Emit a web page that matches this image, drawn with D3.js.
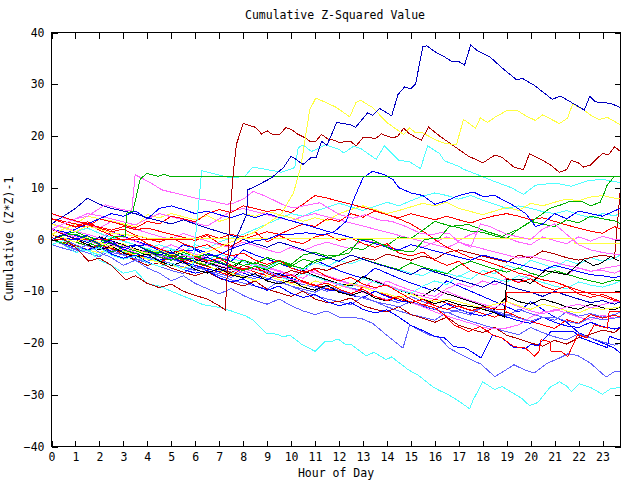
<!DOCTYPE html>
<html>
<head>
<meta charset="utf-8">
<script src="https://cdn.jsdelivr.net/npm/d3@7"></script>
<style>
body { margin: 0; background: #fff; }
text { font-family: "DejaVu Sans Mono", monospace; font-size: 11.5px; fill: #000; }
</style>
</head>
<body>
<svg id="chart" width="640" height="480"></svg>
<script>
const xTicks = d3.range(0, 24);
const yTicks = d3.range(-40, 41, 10);
// bundle series are sampled every half hour, last sample is 23:45
const halfHour = k => (k < 48 ? k / 2 : 23.75);

// traced series, [hour, value]
const navyTop = [[0,0],[0.5,1],[1,0.2],[1.5,-0.6],[2,0.4],[2.5,-0.8],[3,-1.6],[3.5,-1],[4,-2.2],[4.5,-3],[5,-2.4],[5.5,-3.6],[6,-4.2],[6.5,-3.4],[7,-4.5],[7.3,-5],[7.6,-1],[8.14,4.8],[8.2,9.6],[8.6,10.5],[9.18,11.9],[9.4,12.8],[9.68,13.9],[10,16.1],[10.2,15.5],[10.5,14.5],[10.85,15.9],[11.05,15.8],[11.27,19],[11.5,18.2],[11.9,22.6],[12.45,22.2],[12.7,21.7],[13.2,24.5],[13.4,24],[13.7,25.3],[14.2,23.9],[14.46,28],[14.74,29.5],[15,29.1],[15.2,30.1],[15.5,37.3],[15.67,37.4],[16,36.3],[16.4,35.3],[16.75,34.3],[16.96,34.5],[17.24,33.7],[17.5,37.6],[17.8,36.4],[18.3,35.3],[18.77,33.3],[19.4,30.9],[19.67,31.1],[20.15,29.8],[20.9,27.1],[21.24,27.7],[21.55,26.9],[22.24,25],[22.47,27.7],[22.7,26.6],[23.35,26.3],[23.73,25.5]];
const yellowTop = [[0,1],[0.5,0.3],[1,-0.5],[1.5,0.5],[2,-0.6],[2.5,-1.4],[3,-0.8],[3.5,-2],[4,-2.8],[4.5,-2],[5,-3],[5.5,-2.2],[6,-3.2],[6.5,-2.4],[7,-1.5],[7.5,-0.5],[8,0.4],[8.5,1.5],[9,3],[9.6,5],[10.1,9],[10.4,13.9],[10.78,25.1],[11.03,27.3],[11.5,26.4],[11.9,25.5],[12.45,23.7],[12.7,26.4],[12.9,26.9],[13.4,25.5],[14,22.6],[14.7,20.3],[14.95,21.6],[15.2,20.6],[15.5,20.6],[16,19.3],[16.4,18.6],[16.9,18.3],[17.2,23.2],[17.7,21.5],[17.9,23.5],[18.2,22.6],[18.5,23.6],[19,24.9],[19.45,24.9],[19.8,23.9],[20.2,23],[20.5,24.1],[21.2,22.4],[21.55,23.5],[21.75,26.2],[22.2,25.1],[22.55,23.9],[22.86,23.2],[23.2,23.6],[23.73,22.2]];
const darkRedTop = [[0,1],[0.5,0],[1,-1.5],[1.55,-4.2],[2,-3.6],[2.5,-5],[3.1,-7.8],[3.5,-7],[4,-8.5],[4.5,-9.3],[5,-8.6],[5.5,-10],[6,-10.8],[6.5,-11.5],[7,-12.8],[7.25,-13.6],[7.3,-10],[7.45,5],[7.6,13.5],[7.72,18.4],[8,22.4],[8.5,21.7],[8.77,20.4],[9,21],[9.25,20.2],[9.5,20.2],[9.78,21.6],[10,21.3],[10.3,20.3],[10.57,19.7],[10.78,19],[11.03,19],[11.27,20.3],[11.55,19.4],[11.8,19.2],[12.03,18.7],[12.3,19],[12.5,18.9],[12.72,18.1],[13,19.7],[13.3,19.8],[13.5,19.4],[13.77,20.4],[14.25,19.6],[14.46,20],[14.7,21.5],[14.95,20.4],[15.43,19.2],[15.74,21.7],[16.2,20],[16.6,18.7],[17,17.4],[17.4,16.1],[17.8,15.3],[18,14.8],[18.5,16.3],[18.8,15.9],[19.3,14],[19.7,13.5],[19.95,16.6],[20.3,15.8],[20.8,14.5],[21.2,13],[21.5,13.5],[21.7,15.3],[22,14.8],[22.2,14],[22.5,14.4],[22.8,15.8],[23,16.6],[23.25,16.4],[23.5,17.9],[23.73,17.1]];
const greenFlat = [[0,0],[0.5,0.8],[1,1],[1.5,0.2],[2,-1],[2.6,0.5],[3.07,0.6],[3.14,5.1],[3.4,5.5],[3.7,11.6],[3.97,12.8],[4.2,12.5],[4.45,12.2],[4.7,12.6],[4.95,12.2],[23.75,12.2]];
const magentaHigh = [[0,2],[0.5,3],[1,4],[1.5,4.5],[2.24,6.7],[2.93,5.8],[3.35,5.5],[3.49,12.5],[3.8,11.8],[4.3,10.5],[4.6,9.6],[5.3,8.8],[6,8],[6.7,7.4],[7.3,6.8],[7.6,7],[8.07,8],[8.42,9.3],[8.97,8.3],[9.67,6.7],[10.1,6.1],[11.2,7.1],[12.03,4.8],[12.6,4.1],[13.1,4.8],[13.65,3.8],[14.2,3.5],[14.8,2.5],[15.4,1.2],[15.9,0.9],[16.2,1.3],[16.6,1.2],[17,-0.5],[17.5,-1.5],[17.9,3],[18.3,2.5],[19,1],[19.5,0.5],[20,0],[20.5,2],[21,3],[21.5,1],[22,-1],[22.5,-2],[23,-2.5],[23.73,-3]];
const cyanTop = [[0,-1],[0.5,-0.2],[1,-1.4],[1.5,-2.2],[2,-1.6],[2.5,-3],[3,-3.8],[3.5,-3.2],[4,-4.5],[4.5,-5.2],[5,-4.6],[5.5,-5.8],[5.9,-5],[6.27,13.3],[7.5,11.9],[8.07,12.2],[8.4,14],[9,13.5],[9.6,13],[10.15,13.9],[10.3,17.7],[10.5,18.3],[10.85,17],[11.45,18.3],[12,17.4],[12.2,16.7],[12.6,18],[12.9,17.6],[13.55,15.5],[13.9,18.1],[14.5,15.3],[14.95,15],[15.4,13.7],[15.7,18.1],[16.2,16.6],[16.4,15.2],[16.96,14.2],[17.24,13.5],[17.8,12.5],[18.5,11.2],[19.2,10],[19.7,8.7],[20.2,10.5],[21,10.9],[21.7,10.3],[22.4,11.4],[23,11.6],[23.73,11]];
const greenRise = [[0,0],[0.5,-0.8],[1,0.2],[1.5,-0.6],[2,-1.4],[2.5,-0.6],[3,-2],[3.5,-2.8],[4,-2.2],[4.5,-3.4],[5,-4],[5.5,-3.2],[6,-4.4],[6.5,-5],[7,-4.2],[7.5,-5.4],[8,-6],[8.5,-5.2],[9,-5.8],[9.5,-4.6],[10,-5.2],[10.5,-3.8],[11,-4.4],[11.75,-3.3],[12.44,-2.6],[12.86,0],[13.35,0],[13.83,-1],[14.2,-2],[15.1,-2.4],[15.57,0],[16.2,0.3],[16.6,2.5],[17.4,2.9],[18.2,1.5],[18.8,0.6],[19.5,2],[20.2,4],[20.8,6],[21.27,6.7],[21.6,7.3],[22.1,7.4],[22.5,6.5],[22.9,7.2],[23.07,9],[23.2,10.6],[23.5,12.2],[23.73,12.2]];
const redFlatLow = [[0,4],[0.5,3.2],[1,2.4],[1.5,3],[2,1.8],[2.5,0.8],[3,-0.2],[3.5,0.6],[4,-0.8],[4.5,-1.8],[5,-2.6],[5.5,-2],[6,-3.4],[6.5,-4.2],[7,-3.6],[7.5,-5],[8,-5.8],[8.5,-5.2],[9,-6.6],[9.5,-7.4],[10,-6.8],[10.5,-8.2],[11,-9],[11.5,-8.4],[12,-9.6],[12.5,-10.4],[13,-9.6],[13.5,-11],[14,-11.8],[14.5,-11],[15,-12.2],[15.5,-11.6],[16,-12.8],[16.5,-13.5],[17,-12.8],[17.5,-13.8],[18,-13],[18.5,-13.4],[18.95,-13.6],[19,-10.2],[23.75,-10.2]];
const redFlatZero = [[0,0.5],[0.15,0],[5.85,0],[6.5,1],[7,0.2],[7.5,1],[8,0.5],[8.5,1.5],[9,-0.5],[9.5,0.8],[10,-0.3],[10.5,-0.8],[11,0.5],[11.5,1],[12,-0.2],[12.5,0.3],[13,-0.8],[13.5,-1.5],[14,-0.8],[14.5,-2.6],[15,-3.2],[15.5,-2.4],[16,-4],[16.5,-5],[17,-4.2],[17.5,-6],[18,-6.8],[18.5,-6],[19,-7.5],[19.5,-8.3],[20,-7.6],[20.5,-9],[21,-9.8],[21.5,-9],[22,-10.5],[22.5,-11.2],[23,-10.6],[23.75,-12]];
const yellowFlat = [[0,3],[0.5,2.2],[1,1.5],[1.5,2.6],[2,2],[2.5,1.2],[3,1],[3.8,0.5],[4.05,0.2],[21.8,0.2],[21.85,-0.8],[23.75,-0.8]];
const cyanBottom = [[0,0],[0.5,-1],[1,-2.5],[1.5,-2],[2,-4],[2.5,-5],[3,-6.5],[3.5,-6],[4,-8.5],[4.5,-9],[5,-10],[5.8,-11.5],[6.33,-12.6],[7.1,-13.2],[7.5,-13.8],[8.07,-14.7],[8.4,-15.5],[8.97,-18.1],[9.4,-18.3],[9.67,-18.8],[9.95,-18.5],[10.43,-20.2],[11,-21.6],[11.4,-19.8],[11.7,-19.7],[11.96,-19.2],[12.24,-20.2],[12.52,-20.3],[13.14,-22.5],[13.46,-21.8],[13.97,-23.2],[14.2,-22.7],[14.9,-25.2],[15.3,-26.2],[15.9,-28.4],[16.2,-29.2],[16.5,-29.8],[16.96,-31.1],[17.45,-32.7],[17.6,-31],[18,-27.5],[18.5,-29],[18.8,-28.4],[19.2,-29.5],[19.6,-30.6],[19.95,-32.1],[20.3,-31.5],[20.8,-28.6],[21.2,-27.5],[21.5,-28.3],[21.7,-29.4],[22.03,-27.9],[22.5,-28.6],[23,-29.9],[23.35,-28.8],[23.73,-28.6]];
const lightBlueLow = [[0,0],[0.5,-1],[1,-2],[1.5,-1],[2,-2.5],[2.5,-3.5],[3,-5],[3.5,-4],[4,-5.5],[4.5,-6.5],[5,-8],[5.5,-7],[6,-8.5],[6.5,-9.5],[7,-10.5],[7.5,-9.5],[8,-10.8],[8.5,-11.8],[9,-12.5],[9.5,-11.5],[10,-12.8],[10.5,-13.8],[11,-14.5],[11.5,-13.8],[12,-15],[12.9,-15.2],[13.4,-16.2],[13.97,-18.4],[14.67,-21],[14.95,-16.5],[15.4,-17.6],[15.8,-18.5],[16.2,-19],[16.6,-21],[17.24,-22.6],[17.93,-24.1],[18.5,-26.5],[18.9,-25.4],[19.3,-24.2],[19.7,-25.1],[20.15,-25.8],[20.7,-23.9],[21.2,-22.9],[21.55,-22.1],[21.95,-22.4],[22.5,-23.9],[23.15,-26.6],[23.5,-25.5],[23.73,-25.6]];
const blueMid = [[0,1],[0.5,0.2],[1,0],[1.5,0.8],[2,-1],[2.5,-0.2],[3,-2],[3.5,-1.2],[4,-1],[4.5,-2.2],[5,-3],[5.5,-2.2],[6,-2],[6.5,-3.2],[7,-3],[7.5,-1.8],[8,-1],[8.5,-0.2],[9,0],[9.5,1],[10,1],[10.64,1.3],[11.33,0.9],[11.8,1.5],[12.3,3.5],[12.58,7.4],[13,11.9],[13.4,13.2],[13.9,12.5],[14.25,11.6],[14.5,10],[15,9],[15.5,8.5],[16,6.8],[16.5,7.5],[17,8.5],[17.6,9.2],[18,8.3],[18.5,8.5],[19.2,6.8],[19.8,5],[20.2,2.5],[20.5,3],[21,5],[21.5,4],[22,5.5],[22.5,5],[23,4.5],[23.73,6]];
const blackJump = [[0,0],[0.5,-0.8],[1,0.2],[1.5,-1],[2,-2],[2.5,-1.2],[3,-2.6],[3.5,-3.4],[4,-2.8],[4.5,-4.2],[5,-5],[5.5,-4.3],[6,-5.8],[6.5,-6.5],[7,-5.6],[7.5,-6.8],[8,-7.4],[8.5,-6.6],[9,-8],[9.5,-8.6],[10,-7.8],[10.5,-9.2],[11,-9.8],[11.5,-8.8],[12,-10.2],[12.5,-10.8],[13,-10],[13.5,-11.3],[14,-11.9],[14.5,-11],[15,-12.3],[15.5,-11.5],[16,-12.4],[16.5,-11.8],[17,-12.6],[17.8,-13.2],[18.4,-14],[18.9,-15],[19,-7.8],[19.6,-7.8],[20,-8.5],[20.6,-6],[21.5,-6.8],[22.2,-3.9],[22.6,-5],[22.9,-4.7],[23.35,-3.3],[23.7,-4.2]];
const redZig = [[0,4],[0.5,3.2],[1,2.5],[1.5,3.4],[2,2.2],[2.5,1.5],[3,2],[3.5,0.8],[4,0.2],[4.5,-0.5],[5,0.4],[5.5,-0.8],[6,-1.6],[6.5,-1],[7,-2.4],[7.5,-3.2],[8,-2.6],[8.5,-4],[9,-4.8],[9.5,-4],[10,-5.5],[10.5,-6.3],[11,-5.8],[11.5,-7.2],[12,-8],[12.5,-7.3],[13,-8.6],[13.5,-9.3],[14,-8.8],[14.5,-10.2],[15,-11.5],[15.5,-12.6],[16,-13.2],[16.4,-14.6],[16.8,-16.5],[17.4,-17.8],[17.9,-16.8],[18.4,-18.4],[18.8,-19],[19.3,-20.7],[19.8,-21],[20.15,-22.6],[20.35,-21.6],[20.43,-19.4],[20.8,-19.7],[20.85,-21.6],[21.27,-21.6],[21.55,-22.6],[21.96,-18.4],[22.35,-19],[22.65,-16.5],[23.2,-17.1],[23.28,-13.9],[23.73,-14]];
const blueLowZig = [[0,-1],[0.5,-0.2],[1,-1.4],[1.5,-2.2],[2,-1.5],[2.5,-2.8],[3,-3.6],[3.5,-3],[4,-4.4],[4.5,-5.2],[5,-4.6],[5.5,-5.8],[6,-6.5],[6.5,-6],[7,-7.4],[7.5,-8.2],[8,-7.6],[8.5,-9],[9,-9.8],[9.5,-9],[10,-10.4],[10.5,-11.2],[11,-10.6],[11.5,-12],[12,-12.8],[12.5,-12.2],[13,-13.5],[13.5,-14.2],[14,-13.6],[14.5,-15],[15,-16.6],[15.5,-17.6],[16,-18.7],[16.4,-19],[16.8,-20.7],[17.3,-21],[17.93,-22.9],[18.4,-18.5],[18.8,-19],[19.3,-20.9],[19.8,-21],[20,-20.3],[20.3,-20.5],[20.85,-17.8],[21.8,-17.8],[22.1,-19],[23.2,-20.9],[23.28,-18.7],[23.73,-19.4]];

// bundle series, one value per half hour
const blueA = [2,1.5, 0.8,0, -0.8,1.5, 0.7,-0.3, -1,-2, -2.8,-1, -1.8,-2.6, -3.5,-4.2, -2,-3, -3.8,-4.6, -5.5,-6.2, -4,-5, -6,-6.8, -7.5,-5.5, -6.5,-7.5, -8.4,-9.2, -10,-8, -9,-10, -11,-12, -13,-14, -12,-13.5, -15,-16, -18,-19, -20,-21, -22];
const blackB = [1,0.3, -0.5,-1.2, 0.5,-0.3, -1,-1.8, -2.5,-3.2, -2,-3, -3.8,-4.5, -5.2,-5.8, -4,-5, -6,-6.8, -7.5,-6, -7,-7.8, -8.5,-9, -7.2,-8, -9,-9.8, -10.5,-11, -9.5,-10.5, -11.2,-12, -12.8,-13.5, -11,-12, -12.5,-11.5, -12.2,-13, -13.5,-12.5, -13.2,-13.6, -13];
const lightBlueB = [1,0, -1,-2, -1.5,-2.5, -3,-2, -3,-4, -4.6,-5.3, -6,-4.5, -5.5,-6.3, -7,-7.6, -6,-7, -8,-8.7, -9.3,-10, -8.5,-9.3, -10,-11, -11.6,-12.2, -11,-12, -12.8,-13.5, -14,-14.6, -13,-14, -14.8,-13.5, -14.3,-15, -15.6,-14, -14.8,-14.3, -15,-14.5, -14];
const lightBlueC = [0,-1, -1.8,-2.6, -3.3,-2, -3,-3.8, -4.5,-5.2, -6,-6.6, -5,-6, -7,-7.8, -8.4,-9, -9.6,-8, -9,-10, -10.8,-11.5, -12,-12.6, -11,-12, -13,-13.8, -14.5,-15, -15.6,-14, -15,-15.8, -16.5,-17.2, -17.8,-18.4, -17,-18, -18.8,-19.4, -18.2,-19, -19.8,-20.4, -20];
const magentaB = [3,2.4, 1.6,1, 0.3,1.5, 0.5,-0.4, -1.2,-2, -1,-2, -2.8,-3.5, -4.2,-3, -4,-4.8, -5.5,-6.2, -7,-5.5, -6.5,-7.2, -8,-8.7, -9.3,-7.8, -8.8,-9.6, -10.3,-11, -11.6,-10, -11,-11.8, -12.5,-13.2, -12,-13, -13.8,-14.4, -13.5,-14.2, -15,-15.6, -14.6,-15.2, -15];
const magentaC = [1,0.2, -0.5,-1.3, -2,-1, -1.8,-2.5, -2,-3, -3.6,-4.2, -3,-3.8, -4.5,-5.2, -6,-4.5, -5.3,-6, -6.8,-7.5, -6,-7, -7.8,-8.5, -9,-9.6, -8,-9, -9.8,-10.5, -11,-9.5, -8.5,-9.2, -8,-8.8, -7.5,-8.2, -6.5,-7.2, -6,-6.8, -5.5,-6.2, -5.6,-5.2, -5];
const cyanB = [0,-0.8, -1.5,-2.2, -3,-1.5, -2.3,-3, -3.6,-4.2, -3,-3.8, -4.5,-5.2, -6,-6.6, -5,-5.8, -6.5,-7.2, -8,-6.5, -7.2,-8, -8.6,-9.3, -7.5,-8.3, -9,-9.8, -10.4,-9, -8,-8.7, -7,-7.7, -6,-6.6, -5,-5.7, -4,-4.8, -5.5,-4, -4.8,-3.5, -4.2,-3.6, -3];
const cyanC = [2,1.2, 0.5,-0.3, -1,0.5, -0.3,-1, -1.8,-2.4, -2,-2.8, -3.5,-4, -2.8,-3.6, -4.3,-5, -5.6,-4.2, -5,-5.8, -4.5,-5.2, -4,-4.7, -3.8,-4.5, -5.2,-5.8, -6.5,-7, -5.8,-6.5, -7.2,-6, -6.8,-7.5, -8.2,-7, -7.6,-8.3, -9,-9.5, -8.2,-8.8, -9.2,-8.5, -8];
const cyanMid = [0,0.8, 1.5,2.2, 1.2,0.4, -0.4,-1, -1.8,-1, -1.8,-2.5, -1,-1.8, -0.5,0.3, 1,2, 3,4, 5,4.5, 5.5,6.2, 7,6.3, 5.6,6.4, 7.2,6.5, 7.5,8.4, 9,8.5, 7.8,8.5, 7.6,6.8, 6,6.5, 6,5.4, 5,5.6, 4.8,4.2, 5,4.6, 5];
const redC = [0,-0.7, -1.4,-2, -1,-1.8, -2.5,-3.2, -3.8,-4.4, -3.5,-4.2, -5,-5.6, -6.3,-7, -5.5,-6.3, -7,-7.8, -8.3,-8, -8.8,-9.5, -10,-10.6, -9.2,-10, -10.8,-11.5, -12.2,-12.8, -11.5,-12.3, -13,-13.6, -14.3,-15, -14,-15, -15.8,-16.5, -17.2,-15.5, -16.2,-14.5, -15.2,-14.6, -15];
const darkRedB = [0,-0.6, -1.2,-2, -2.6,-1.5, -2.2,-3, -3.4,-4, -3,-3.8, -4.5,-5.2, -5.8,-6.4, -5,-5.7, -6.3,-7, -6,-6.6, -5.5,-6, -5,-4.2, -3.5,-4, -2.8,-3.4, -4,-3.2, -3.8,-2.5, -2,-2.6, -3.2,-3.8, -4.4,-3, -3.6,-2.2, -2.8,-3.5, -4,-3.5, -3,-3.5, 10];
const darkRedC = [2,1, 0,-1, -2,-1.5, -3,-4, -5,-4.5, -5.5,-6.3, -7,-6.2, -7.5,-8.2, -9,-8, -9.6,-10.3, -11,-10, -11.5,-12.2, -12,-11.3, -12.8,-13.5, -14,-13, -14.5,-15.2, -16,-15, -16.6,-17.3, -18,-17, -18.5,-19.2, -20,-20.6, -19.5,-20.2, -19,-18.3, -17.5,-18, -17];
const greenC = [0,1, 1.5,0.5, 0,-0.8, -1.5,-1, -2,-2.8, -3.4,-2.5, -3.2,-4, -4.6,-5.2, -4,-4.7, -3.5,-4.2, -5,-5.6, -4,-3.5, -4.2,-3, -3.8,-4.5, -5.2,-5.8, -4.5,-5.3, -6,-6.6, -5,-4.2, -5,-5.7, -6.3,-5.5, -6.5,-7.2, -6,-6.7, -7.4,-8, -8.5,-7.8, -8];
const yellowB = [1,2, 3,4.5, 4,3.6, 3,2.5, 4.8,4.2, 5,4.4, 3.8,4.6, 3.5,4.2, 5,4.5, 5.5,4.8, 4.2,3.5, 4.2,3.6, 5,5.8, 6.5,5.8, 5,5.6, 6.3,7, 6.5,7.2, 6,5.4, 4.8,5.5, 6.2,5.6, 7,6.5, 7.2,7.8, 7.5,8.2, 8.5,8, 8];
const yellowC = [0,-0.7, -1.4,-2, -2.6,-1.5, -2.2,-3, -3.8,-4.4, -5,-5.5, -4,-5, -6,-6.6, -7.2,-8, -7,-7.8, -8.5,-9.2, -8,-8.6, -9.3,-8.5, -9.2,-10, -10.5,-11.2, -10.5,-11.5, -12,-11.5, -12,-12.7, -13.3,-12.5, -12,-12.8, -13.5,-12.5, -13,-13.8, -14.2,-13.2, -13.5,-13.2, -13];
const magentaD = [5,4.2, 3.5,2.8, 2.2,3.5, 2.8,2, 1.3,0.6, 0,1.2, 0.4,-0.3, -1,-1.6, -0.5,-1.2, -2,-2.6, -1.5,-2.2, -1.2,-0.5, -1.2,-1.8, 0,-0.6, -1.3,-2, -1,-1.5, -0.5,0.5, -0.2,1, 1.8,1, 0.3,-0.5, -1,0.5, -0.2,-0.8, 0.5,-0.3, 0.6,0, 0];
const magentaF = [2,3, 4,5, 4.6,4, 3.4,2.8, 4,5, 4.4,3.8, 3.2,2.6, 4,5.5, 6,5.4, 4.8,4.2, 3.6,4.5, 5,4.4, 3.8,3.2, 2.6,2, 1.4,0.8, 0.2,-0.4, -1,-1.6, -0.5,-1.2, -1.8,-2.4, -3,-3.6, -3.2,-3.8, -4.4,-5, -5.5,-6.1, -6,-6.5, -6];
const redD = [5,4.3, 3.6,3, 2.4,1.8, 2.5,1.9, 2.2,1.6, 1,0.4, -0.2,0.8, -0.8,-1.3, 0,0.8, 1.5,1, 2,3, 2.5,4, 3.5,5, 4.3,5.5, 4.8,4.2, 5,4.4, 3.8,4.5, 3.8,3.2, 4,4.6, 5,4.5, 3.8,4.2, 3.5,2.8, 2.2,1.6, 1.2,2.5, 2];
const redE = [4,3.5, 3,2.4, 4,3.4, 2.8,2.2, 3.5,3, 4.5,4, 3.4,5, 5.8,5.2, 6.5,6, 5.4,5.8, 5.2,6.8, 8.5,8, 7.4,6.8, 6.2,5.6, 4.8,4, 3,1.6, 0,-1.5, -2.5,-3.5, -4,-4.8, -5.6,-6.5, -7,-7.8, -8.2,-9, -9.8,-10.5, -11,-11.8, -12];
const blueD = [0,-0.8, -1.5,-2, -1.2,-2.3, -2,-2.7, -3.4,-4, -3.5,-4.4, -5,-5.7, -6.2,-5.3, -6.5,-7.2, -7.8,-6.5, -7.5,-8.3, -9,-9.7, -10,-10.8, -11.2,-10, -11,-11.8, -12.2,-12.9, -13.5,-12.4, -13.5,-14.3, -14.8,-14, -15,-15.7, -16.2,-15, -16,-16.7, -17,-16, -16.8,-17.3, -17];
const blueE = [0,1, 2,3, 4,5, 4.5,5.5, 4,6, 6.5,5.8, 5,5.5, 4.8,4.2, 5,4.2, 5,4.3, 3.6,3, 2.3,1.6, 1,0.4, -0.2,-0.8, -1.5,-2, -1,-1.6, -2.2,-2.8, -3.4,-4, -3,-3.6, -4.2,-4.8, -5.4,-6, -5,-5.6, -6.2,-6.8, -7,-7.4, -7];
const navyB = [3,4.5, 6,8, 6.8,6, 5.5,5, 4.2,3.6, 3,3.8, 3,2.2, 1.5,0.8, 0,-0.8, -1.5,-0.5, -1.2,-2, -2.8,-3.5, -4.2,-3, -3.8,-4.6, -5.3,-6, -6.8,-5.5, -6.3,-7, -7.8,-8.5, -9.2,-8, -8.8,-9.6, -10.2,-11, -10,-10.8, -11.5,-12.2, -11.8,-12.5, -12];
const greenD = [1,0.3, -0.5,-1.2, -1.8,-2.4, -1.5,-2.2, -3,-2.4, -3.2,-4, -3.5,-2.8, -3.6,-4.3, -5,-4.5, -5.2,-4, -4.8,-3, -2.5,-3.2, -3,-1.5, -2,-0.5, -1.2,0.5, 0.2,1.8, 3.5,2.8, 2.3,1.6, 1.4,0.7, 0.2,2, 3.5,3, 2.5,3.8, 3.2,4.5, 4,3.6, 3];
const lightBlueD = [-1,-1.7, -2.3,-1, -1.8,-2.5, -3,-3.7, -4.2,-3, -3.8,-4.6, -5.3,-6, -6.6,-7.3, -6,-6.8, -7.5,-8.2, -9,-9.6, -10.2,-9, -9.8,-10.6, -11.3,-12, -12.5,-13, -12,-12.8, -13.5,-14.2, -13.6,-14.2, -13,-13.8, -14.5,-15.2, -15.8,-15, -15,-15.8, -16.3,-15, -15.5,-15.2, -15];
const magentaE = [2,1.2, 0.5,-0.2, -1,-0.4, -1.2,-2, -2.6,-3.3, -4,-3, -3.6,-4.3, -5,-5.7, -6.4,-5.6, -6.2,-7, -7.7,-8.3, -9,-8, -8.8,-9.5, -10.2,-11, -11.7,-11, -12.2,-13, -14,-14.8, -15.5,-16.2, -17,-17.3, -17.1,-16.5, -15,-14, -13.8,-13, -12.5,-13.2, -12.6,-12, -12];

const bundleList = [blueA, blackB, lightBlueB, lightBlueC, magentaB, magentaC, cyanB, cyanC, cyanMid,
  redC, darkRedB, darkRedC, greenC, yellowB, yellowC, magentaD, magentaF, redD, redE, blueD, blueE,
  navyB, greenD, lightBlueD, magentaE];
const bundleColors = ["#0000ff","#000000","#6060ff","#6060ff","#ff66ff","#ff66ff","#50ffff","#50ffff","#50ffff",
  "#ff0000","#b00000","#b00000","#00b000","#ffff40","#ffff40","#ff66ff","#ff66ff","#ff0000","#ff0000","#0000ff","#0000ff",
  "#0000c0","#00b000","#6060ff","#ff66ff"];
const tracedList = [cyanBottom, lightBlueLow, blueLowZig, redZig, blackJump, redFlatLow, redFlatZero,
  yellowFlat, greenRise, blueMid, magentaHigh, cyanTop, greenFlat, darkRedTop, yellowTop, navyTop];
const tracedColors = ["#50ffff","#6060ff","#0000ff","#ff0000","#000000","#ff0000","#ff0000",
  "#ffff40","#00b000","#0000ff","#ff66ff","#50ffff","#00b000","#b00000","#ffff40","#0000c0"];

const svg = d3.select("#chart");
const plotLeft = 51.5, plotRight = 620.5, plotTop = 32.5, plotBottom = 446.5;

const x = d3.scaleLinear().domain([0, 23.75]).range([plotLeft, plotRight]);
const y = d3.scaleLinear().domain([-40, 40]).range([plotBottom, plotTop]);

const line = d3.line().x(d => x(d[0])).y(d => y(d[1]));
const plot = svg.append("g").attr("shape-rendering", "crispEdges")
    .attr("fill", "none").attr("stroke-width", 1);

bundleList.forEach((vals, i) => {
    plot.append("path")
        .datum(vals.map((v, k) => [halfHour(k), v]))
        .attr("d", line)
        .attr("stroke", bundleColors[i]);
});
tracedList.forEach((pts, i) => {
    plot.append("path")
        .datum(pts)
        .attr("d", line)
        .attr("stroke", tracedColors[i]);
});

// axes, ticks pointing inward on all four sides
const axes = svg.append("g").attr("shape-rendering", "crispEdges");
axes.append("g").attr("transform", `translate(0,${plotBottom})`)
    .call(d3.axisBottom(x).tickValues(xTicks).tickSize(-6).tickPadding(6).tickFormat(d3.format("d")));
axes.append("g").attr("transform", `translate(0,${plotTop})`)
    .call(d3.axisTop(x).tickValues(xTicks).tickSize(-6).tickFormat(""));
axes.append("g").attr("transform", `translate(${plotLeft},0)`)
    .call(d3.axisLeft(y).tickValues(yTicks).tickSize(-6).tickPadding(7).tickFormat(d3.format("d")));
axes.append("g").attr("transform", `translate(${plotRight},0)`)
    .call(d3.axisRight(y).tickValues(yTicks).tickSize(-6).tickFormat(""));
axes.selectAll(".domain").remove();
axes.selectAll("line").attr("stroke", "#000");
axes.selectAll("text").attr("font-family", "DejaVu Sans Mono").attr("font-size", "11.5px");

axes.append("rect")
    .attr("x", plotLeft).attr("y", plotTop)
    .attr("width", plotRight - plotLeft).attr("height", plotBottom - plotTop)
    .attr("fill", "none").attr("stroke", "#000");

svg.append("text").attr("x", 335).attr("y", 19).attr("text-anchor", "middle")
    .text("Cumulative Z-Squared Value");
svg.append("text").attr("x", 336).attr("y", 477).attr("text-anchor", "middle")
    .text("Hour of Day");
svg.append("text").attr("transform", "translate(13,239) rotate(-90)").attr("text-anchor", "middle")
    .text("Cumulative (Z*Z)-1");
</script>
</body>
</html>
